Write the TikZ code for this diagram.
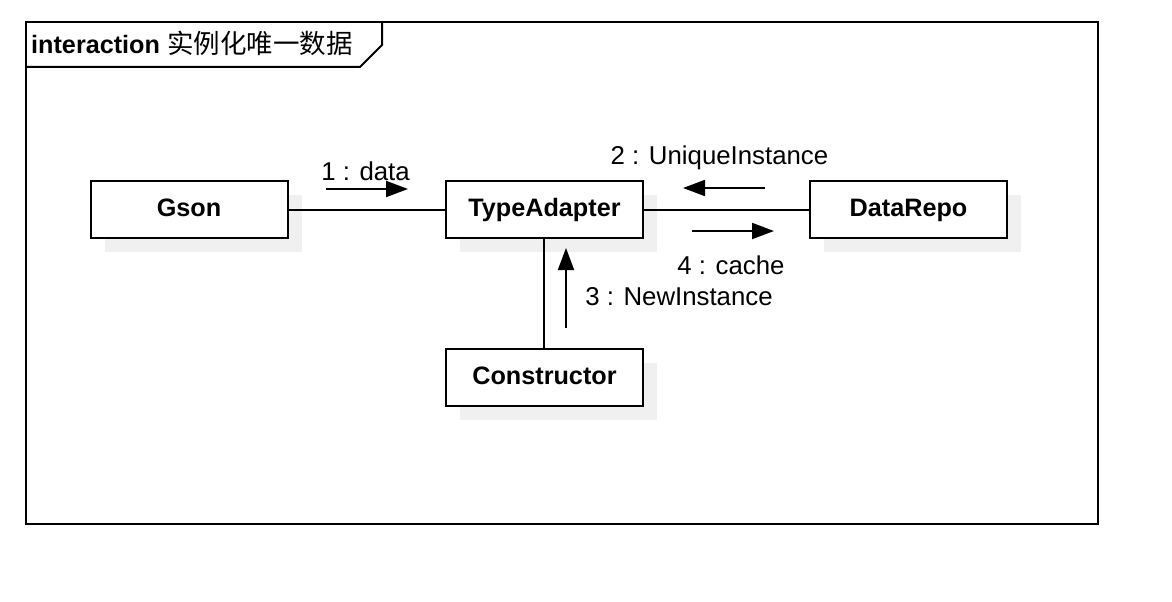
\documentclass[tikz,border=0pt]{standalone}
\usepackage{fontspec}
\setmainfont{Liberation Sans}
\newfontfamily\cjk{Noto Sans CJK SC}
\usetikzlibrary{arrows.meta}
\tikzset{
  obj/.style={draw, line width=2pt, fill=white, minimum width=197pt, minimum height=57pt, inner sep=0pt, text height=18pt, text depth=5pt, font=\fontsize{25.2}{29}\selectfont\bfseries},
  objshadow/.style={fill=black!6, draw=none, minimum width=197pt, minimum height=57pt, inner sep=0pt},
  lbl/.style={anchor=base, inner sep=0pt, font=\fontsize{25.8}{30}\selectfont},
  msg/.style={line width=2pt, -{Triangle[length=22pt,width=16pt]}},
  link/.style={line width=2pt},
}
\begin{document}
\begin{tikzpicture}[x=1pt,y=-1pt]
\useasboundingbox[fill=white] (0,0) rectangle (1172,602);
% frame
\draw[line width=2pt] (26,22) rectangle (1098,524);
\draw[line width=2pt] (26,67) -- (360,67) -- (382,45) -- (382,22);
\node[lbl, anchor=base west, font=\fontsize{25.2}{29}\selectfont] (title) at (31,53) {\textbf{interaction} {\cjk\fontsize{26.5}{30}\selectfont 实例化唯一数据}};
% shadows
\node[objshadow] (gsonsh) at (203,223.5) {};
\node[objshadow] (adaptersh) at (558.5,223.5) {};
\node[objshadow] (reposh) at (922.5,223.5) {};
\node[objshadow] (ctorsh) at (558.5,391.5) {};
% objects
\node[obj] (gson) at (189,209.5) {Gson};
\node[obj] (adapter) at (544.5,209.5) {TypeAdapter};
\node[obj] (repo) at (908.5,209.5) {DataRepo};
\node[obj] (ctor) at (544.5,377.5) {Constructor};
% links
\draw[link] (gson) -- (adapter);
\draw[link] (adapter) -- (repo);
\draw[link] (adapter.south) ++(-1,0) coordinate (ta) (ctor.north) ++(-1,0) coordinate (tc);
\draw[link] (ta) -- (tc);
% messages
\coordinate (m1a) at (326,189);
\coordinate (m1b) at (408,189);
\draw[msg] (m1a) -- (m1b);
\node[lbl] (m1) at (365.5,180) {1 : data};
\coordinate (m2a) at (765,188);
\coordinate (m2b) at (683,188);
\draw[msg] (m2a) -- (m2b);
\node[lbl] (m2) at (719.5,164) {2 : UniqueInstance};
\coordinate (m4a) at (692,231);
\coordinate (m4b) at (774,231);
\draw[msg] (m4a) -- (m4b);
\node[lbl] (m4) at (731,274) {4 : cache};
\coordinate (m3a) at (566,328);
\coordinate (m3b) at (566,248);
\draw[msg] (m3a) -- (m3b);
\node[lbl] (m3) at (679,305) {3 : NewInstance};
\end{tikzpicture}
\end{document}
